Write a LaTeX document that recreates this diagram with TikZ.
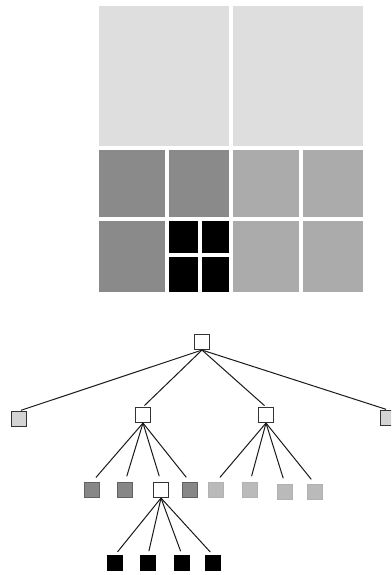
\documentclass[tikz,border=0pt]{standalone}
\begin{document}
\begin{tikzpicture}[x=1pt,y=-1pt,
  tbox/.style={draw=black!80,line width=1.1pt,minimum size=15pt,inner sep=0pt,fill=white},
  gbox/.style={tbox,fill=black!17},
  dbox/.style={draw=black!62,line width=1pt,minimum size=15pt,inner sep=0pt,fill=black!47},
  mbox/.style={draw=black!30,line width=1pt,minimum size=15pt,inner sep=0pt,fill=black!27},
  kbox/.style={draw=black,line width=1pt,minimum size=15pt,inner sep=0pt,fill=black},
  edge/.style={draw=black!90,line width=1pt}]
\useasboundingbox (0,0) rectangle (391,575);
\clip (0,0) rectangle (391,575);
\colorlet{lightc}{black!13}
\colorlet{darkc}{black!46}
\colorlet{midc}{black!33}
% quadtree grid
\fill[lightc] (99,6) rectangle (229,146);
\fill[lightc] (233,6) rectangle (363,146);
\fill[darkc] (99,150) rectangle (165,217);
\fill[darkc] (169,150) rectangle (229,217);
\fill[midc] (233,150) rectangle (299,217);
\fill[midc] (303,150) rectangle (363,217);
\fill[darkc] (99,221) rectangle (165,292);
\fill[black] (169,221) rectangle (198,253);
\fill[black] (202,221) rectangle (229,253);
\fill[black] (169,257) rectangle (198,292);
\fill[black] (202,257) rectangle (229,292);
\fill[midc] (233,221) rectangle (299,292);
\fill[midc] (303,221) rectangle (363,292);
% tree nodes
\node[tbox] (r) at (202,342) {};
\node[gbox] (a) at (19,419) {};
\node[tbox] (b) at (143,415) {};
\node[tbox] (c) at (266,415) {};
\node[gbox] (d) at (388,418) {};
\node[dbox] (b1) at (92,490) {};
\node[dbox] (b2) at (125,490) {};
\node[tbox] (b3) at (161,490) {};
\node[dbox] (b4) at (190,490) {};
\node[mbox] (c1) at (216,490) {};
\node[mbox] (c2) at (250,490) {};
\node[mbox] (c3) at (285,492) {};
\node[mbox] (c4) at (315,492) {};
\node[kbox] (k1) at (115,563) {};
\node[kbox] (k2) at (148,563) {};
\node[kbox] (k3) at (182,563) {};
\node[kbox] (k4) at (213,563) {};
% edges
\foreach \n in {a,b,c,d} \draw[edge,shorten >=2pt] (r.south) -- (\n.north);
\foreach \n in {b1,b2,b3,b4} \draw[edge,shorten >=6pt] (b.south) -- (\n.north);
\foreach \n in {c1,c2,c3,c4} \draw[edge,shorten >=6pt] (c.south) -- (\n.north);
\foreach \n in {k1,k2,k3,k4} \draw[edge,shorten >=4pt] (b3.south) -- (\n.north);
\end{tikzpicture}
\end{document}
